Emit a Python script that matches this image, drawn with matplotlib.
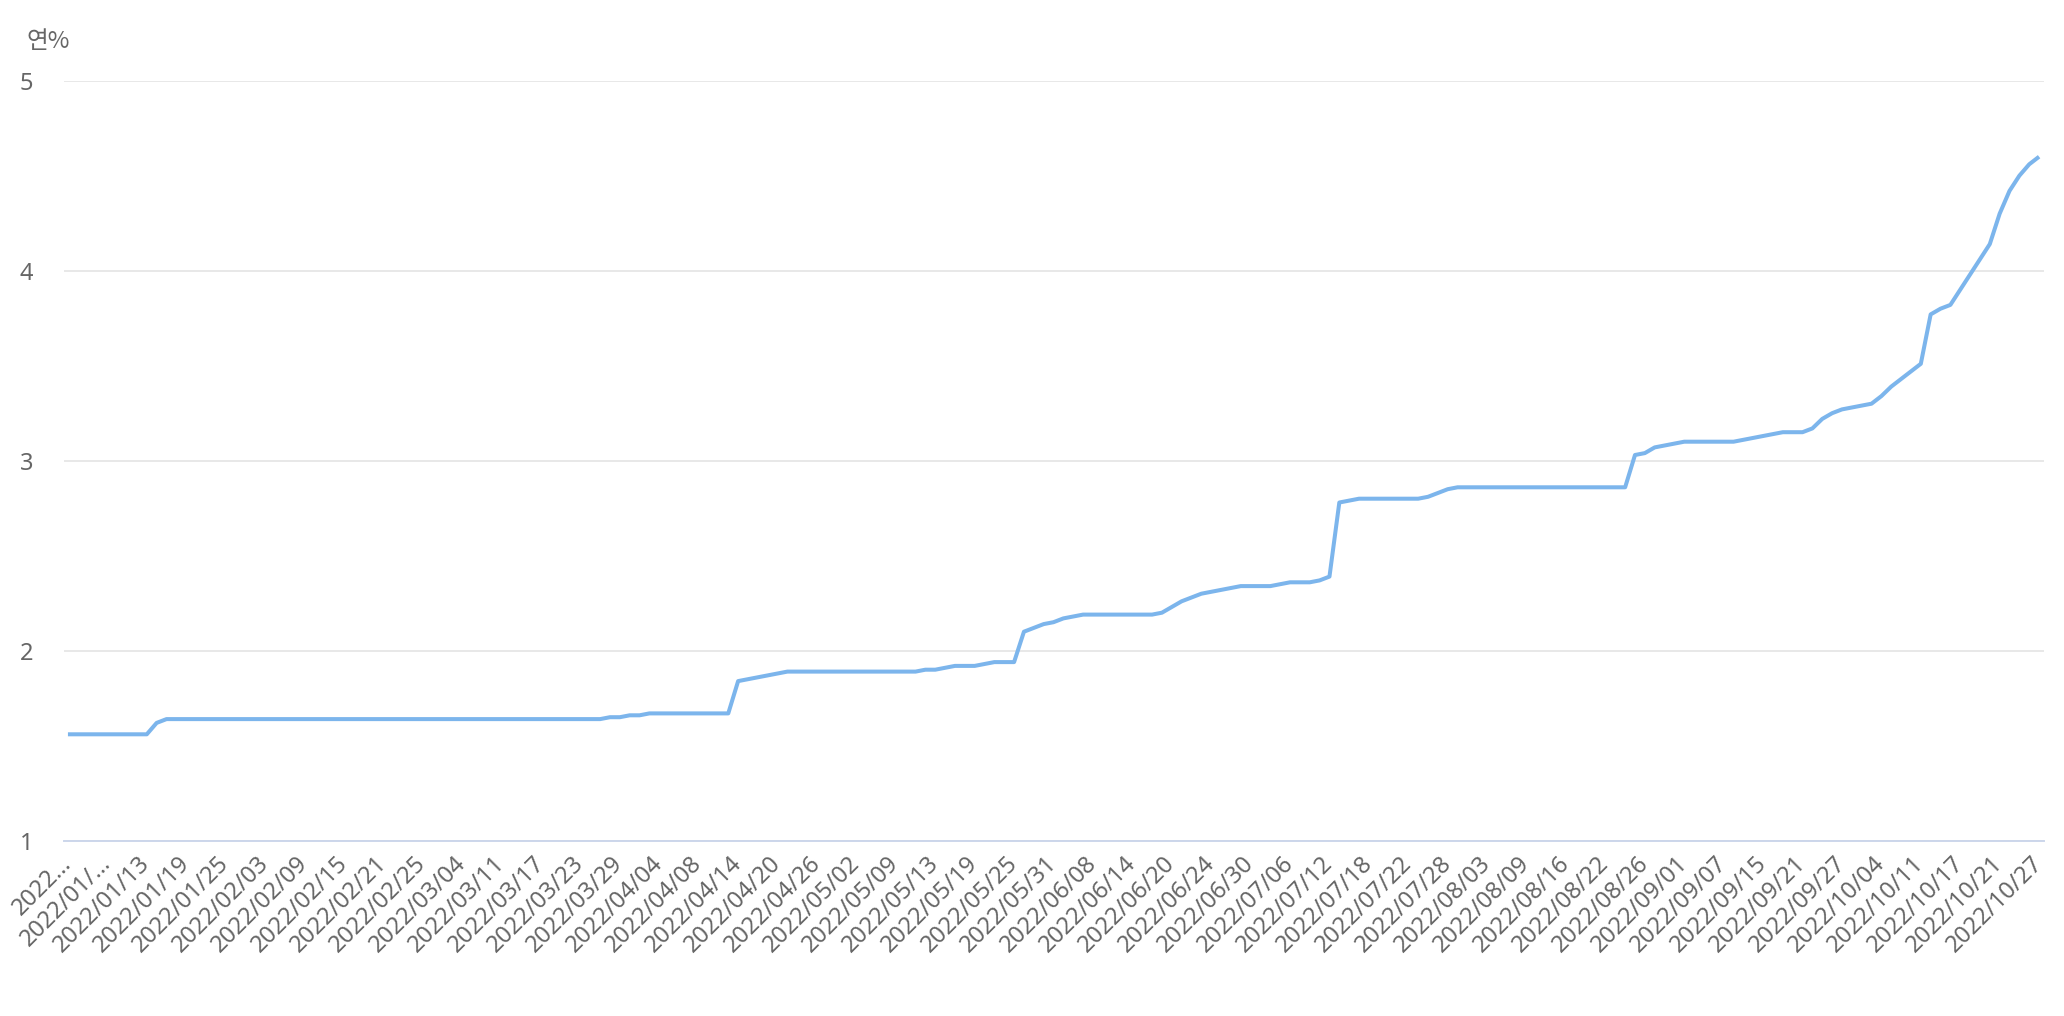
import matplotlib
matplotlib.use("Agg")
import matplotlib.pyplot as plt

plt.rcParams['font.family'] = ['Noto Sans', 'Noto Sans CJK KR', 'DejaVu Sans']

# Tick labels (every 4th business day, as shown on the chart)
tick_labels = [
    "2022…", "2022/01/…", "2022/01/13", "2022/01/19", "2022/01/25",
    "2022/02/03", "2022/02/09", "2022/02/15", "2022/02/21", "2022/02/25",
    "2022/03/04", "2022/03/11", "2022/03/17", "2022/03/23", "2022/03/29",
    "2022/04/04", "2022/04/08", "2022/04/14", "2022/04/20", "2022/04/26",
    "2022/05/02", "2022/05/09", "2022/05/13", "2022/05/19", "2022/05/25",
    "2022/05/31", "2022/06/08", "2022/06/14", "2022/06/20", "2022/06/24",
    "2022/06/30", "2022/07/06", "2022/07/12", "2022/07/18", "2022/07/22",
    "2022/07/28", "2022/08/03", "2022/08/09", "2022/08/16", "2022/08/22",
    "2022/08/26", "2022/09/01", "2022/09/07", "2022/09/15", "2022/09/21",
    "2022/09/27", "2022/10/04", "2022/10/11", "2022/10/17", "2022/10/21",
    "2022/10/27",
]
tick_step = 4

# Daily rate values (연%), one per business day from 2022/01/03 to 2022/10/27
values = [
    # idx 0-9
    1.56, 1.56, 1.56, 1.56, 1.56, 1.56, 1.56, 1.56, 1.56, 1.62,
    # idx 10-19
    1.64, 1.64, 1.64, 1.64, 1.64, 1.64, 1.64, 1.64, 1.64, 1.64,
    # idx 20-29
    1.64, 1.64, 1.64, 1.64, 1.64, 1.64, 1.64, 1.64, 1.64, 1.64,
    # idx 30-39
    1.64, 1.64, 1.64, 1.64, 1.64, 1.64, 1.64, 1.64, 1.64, 1.64,
    # idx 40-49
    1.64, 1.64, 1.64, 1.64, 1.64, 1.64, 1.64, 1.64, 1.64, 1.64,
    # idx 50-59
    1.64, 1.64, 1.64, 1.64, 1.64, 1.65, 1.65, 1.66, 1.66, 1.67,
    # idx 60-69
    1.67, 1.67, 1.67, 1.67, 1.67, 1.67, 1.67, 1.67, 1.84, 1.85,
    # idx 70-79
    1.86, 1.87, 1.88, 1.89, 1.89, 1.89, 1.89, 1.89, 1.89, 1.89,
    # idx 80-89
    1.89, 1.89, 1.89, 1.89, 1.89, 1.89, 1.89, 1.90, 1.90, 1.91,
    # idx 90-99
    1.92, 1.92, 1.92, 1.93, 1.94, 1.94, 1.94, 2.10, 2.12, 2.14,
    # idx 100-109
    2.15, 2.17, 2.18, 2.19, 2.19, 2.19, 2.19, 2.19, 2.19, 2.19,
    # idx 110-119
    2.19, 2.20, 2.23, 2.26, 2.28, 2.30, 2.31, 2.32, 2.33, 2.34,
    # idx 120-129
    2.34, 2.34, 2.34, 2.35, 2.36, 2.36, 2.36, 2.37, 2.39, 2.78,
    # idx 130-139
    2.79, 2.80, 2.80, 2.80, 2.80, 2.80, 2.80, 2.80, 2.81, 2.83,
    # idx 140-149
    2.85, 2.86, 2.86, 2.86, 2.86, 2.86, 2.86, 2.86, 2.86, 2.86,
    # idx 150-159
    2.86, 2.86, 2.86, 2.86, 2.86, 2.86, 2.86, 2.86, 2.86, 3.03,
    # idx 160-169
    3.04, 3.07, 3.08, 3.09, 3.10, 3.10, 3.10, 3.10, 3.10, 3.10,
    # idx 170-179
    3.11, 3.12, 3.13, 3.14, 3.15, 3.15, 3.15, 3.17, 3.22, 3.25,
    # idx 180-189
    3.27, 3.28, 3.29, 3.30, 3.34, 3.39, 3.43, 3.47, 3.51, 3.77,
    # idx 190-200
    3.80, 3.82, 3.90, 3.98, 4.06, 4.14, 4.30, 4.42, 4.50, 4.56, 4.60,
]

y_ticks = [1, 2, 3, 4, 5]
y_unit = "연%"

W, H = 2064, 1016
fig = plt.figure(figsize=(W / 100, H / 100), dpi=100)
ax = fig.add_axes([64 / W, 1 - 840.7 / H, (2044 - 64) / W, (840.7 - 80.7) / H])

x = list(range(len(values)))
ax.plot(x, values, color="#7cb5ec", linewidth=2.9, solid_joinstyle="round",
        solid_capstyle="butt", zorder=3)

ax.set_xlim(-0.4, len(values) - 1 + 0.5)
ax.set_ylim(1, 5)

ax.set_yticks(y_ticks)
ax.set_yticklabels([str(t) for t in y_ticks])
ax.yaxis.grid(True, color="#e6e6e6", linewidth=1.3, zorder=0)
ax.set_axisbelow(True)

tick_pos = [i * tick_step for i in range(len(tick_labels))]
ax.set_xticks(tick_pos)
ax.set_xticklabels(tick_labels, rotation=45, ha="right", va="center",
                   rotation_mode="anchor")

ax.tick_params(axis="y", length=0, pad=22, labelsize=17, labelcolor="#666666")
ax.tick_params(axis="x", length=0, pad=14, labelsize=17, labelcolor="#666666")

for s in ["top", "right", "left"]:
    ax.spines[s].set_visible(False)
ax.spines["bottom"].set_color("#ccd6eb")
ax.spines["bottom"].set_linewidth(1.4)

fig.text(26 / W, 1 - 41 / H, y_unit, ha="left", va="center",
         fontsize=17, color="#666666", family=['Noto Sans CJK KR', 'DejaVu Sans'])

fig.savefig("out.png", dpi=100, facecolor="white")
